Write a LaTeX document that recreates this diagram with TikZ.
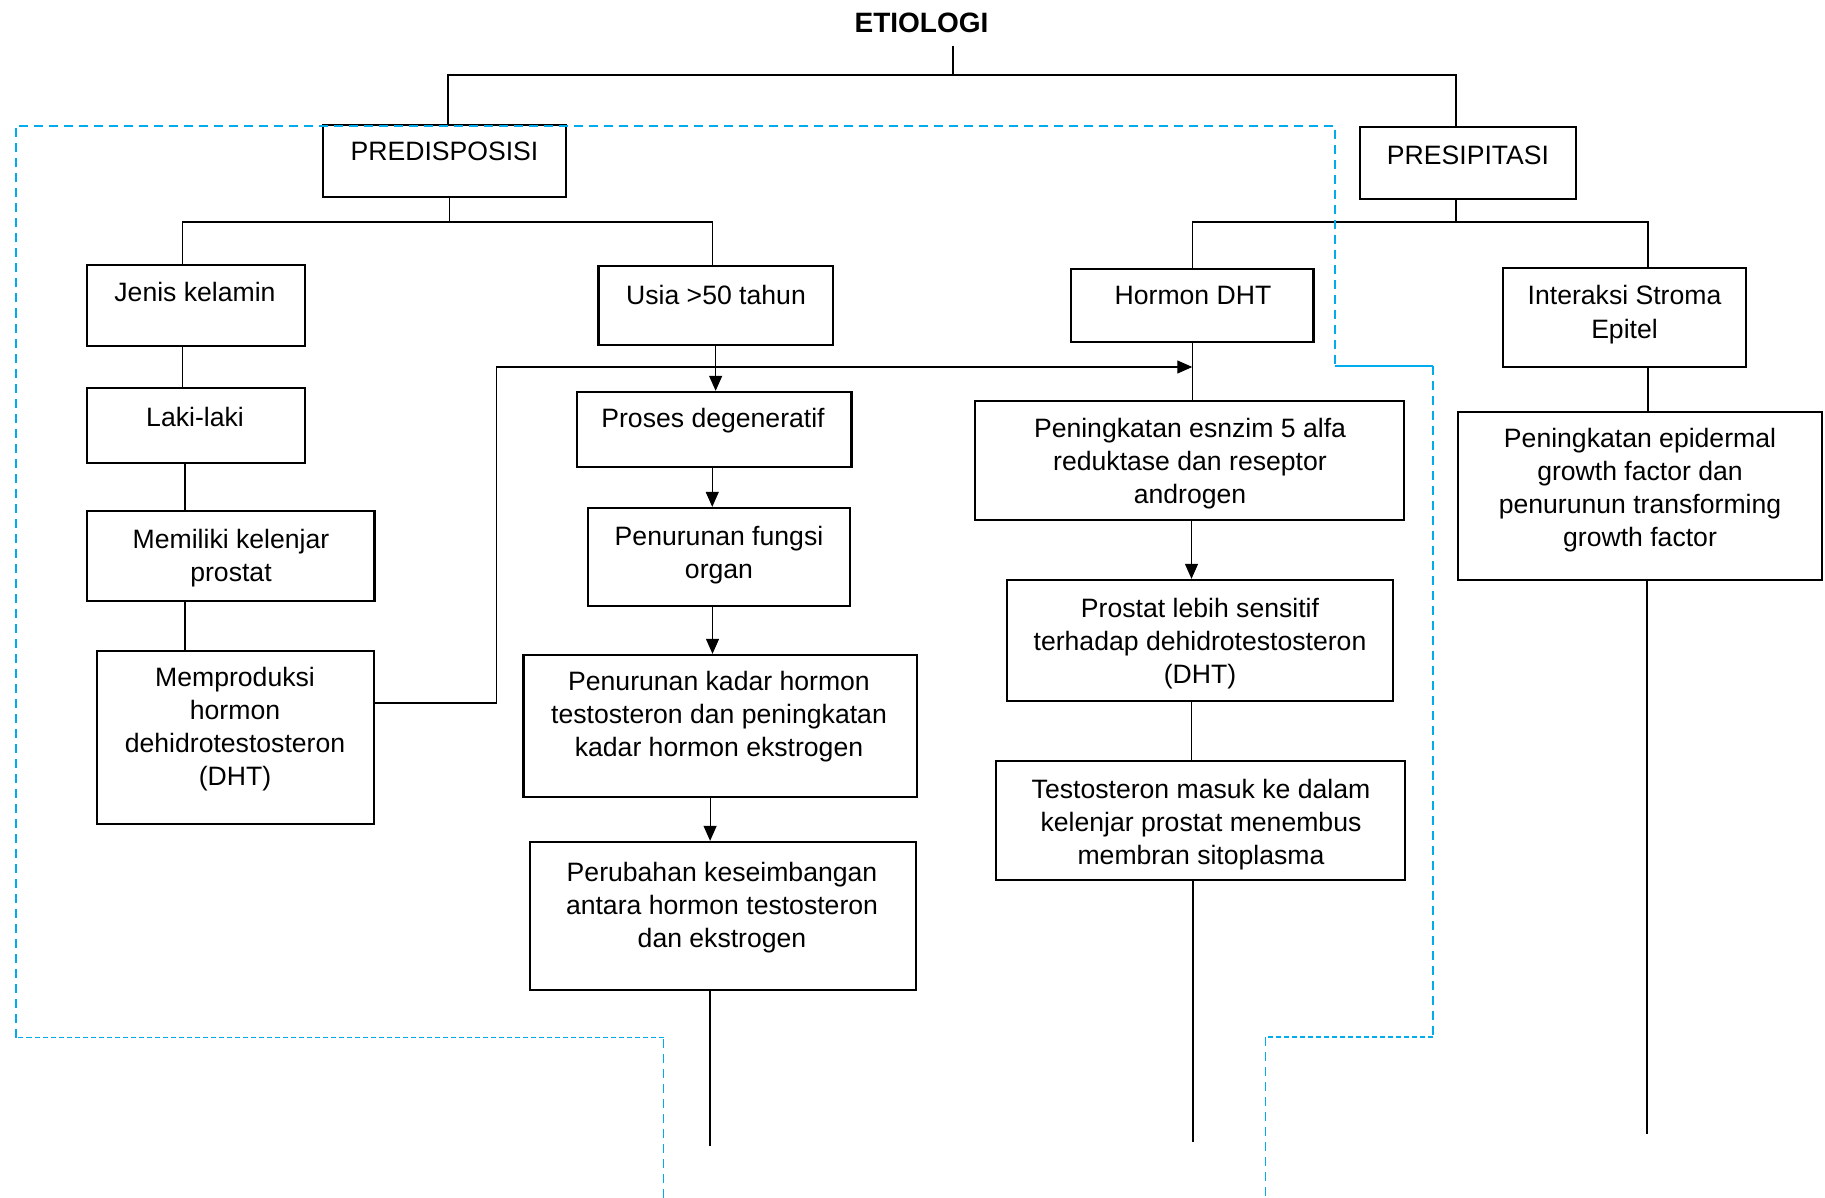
\documentclass[tikz,border=0pt]{standalone}
\usepackage{fontspec}
\setmainfont{Liberation Sans}
\usetikzlibrary{fit,arrows.meta}
\definecolor{guide}{RGB}{0,172,236}
\begin{document}
\begin{tikzpicture}[x=0.5pt,y=-0.5pt,
  box/.style={draw, line width=1.15pt, fill=white, inner sep=0pt},
  txt/.style={align=center, inner sep=0pt, anchor=base, font=\fontsize{13.3}{16.65}\selectfont},
  conn/.style={line width=0.55pt},
  arr/.style={conn, -{Triangle[length=7.5pt,width=6.5pt]}},
  region/.style={guide, line width=0.9pt, dash pattern=on 4.5pt off 3pt},
  regionfine/.style={guide, line width=0.9pt, dash pattern=on 2.5pt off 1.5pt}]
\useasboundingbox (0,0) rectangle (1825,1198);

% title
\node[txt, font=\fontsize{14}{17}\selectfont\bfseries] (etio) at (921.5,33) {ETIOLOGI};

% boxes
\node[box, fit={(323,125) (566,197)}] (pred) {};
\node[box, fit={(1360,127) (1576,199)}] (pres) {};
\node[box, fit={(87,265) (305,346)}] (jk) {};
\node[box, fit={(598.6,266) (832.7,345)}] (usia) {};
\node[box, fit={(1071,269) (1313.6,342)}] (horm) {};
\node[box, fit={(1503,268) (1746,367)}] (inter) {};
\node[box, fit={(87,388) (305,463)}] (laki) {};
\node[box, fit={(87,511) (374.4,601)}] (memi) {};
\node[box, fit={(97,651) (374,824)}] (mempro) {};
\node[box, fit={(577,392) (851.5,467)}] (proses) {};
\node[box, fit={(588,508) (850,606)}] (penf) {};
\node[box, fit={(523.5,655) (916.7,797)}] (penk) {};
\node[box, fit={(530,842) (916,990)}] (perub) {};
\node[box, fit={(975,401) (1404,520)}] (esn) {};
\node[box, fit={(1007,580) (1393,701)}] (prost) {};
\node[box, fit={(996,761) (1405,880)}] (testo) {};
\node[box, fit={(1458,411.7) (1822,580)}] (epi) {};

% box texts (anchored at the baseline of their last line)
\node[txt] (pred-t) at (444.5,161) {PREDISPOSISI};
\node[txt] (pres-t) at (1468,165) {PRESIPITASI};
\node[txt] (jk-t) at (195,301) {Jenis kelamin};
\node[txt] (usia-t) at (716,304) {Usia >50 tahun};
\node[txt] (horm-t) at (1193,305) {Hormon DHT};
\node[txt] (inter-t) at (1624.5,338.3) {Interaksi Stroma\\Epitel};
\node[txt] (laki-t) at (195,426) {Laki-laki};
\node[txt] (memi-t) at (231,581.3) {Memiliki kelenjar\\prostat};
\node[txt] (mempro-t) at (235,785.9) {Memproduksi\\hormon\\dehidrotestosteron\\(DHT)};
\node[txt] (proses-t) at (713,427) {Proses degeneratif};
\node[txt] (penf-t) at (719,578.3) {Penurunan fungsi\\organ};
\node[txt] (penk-t) at (719,756.6) {Penurunan kadar hormon\\testosteron dan peningkatan\\kadar hormon ekstrogen};
\node[txt] (perub-t) at (722,947.6) {Perubahan keseimbangan\\antara hormon testosteron\\dan ekstrogen};
\node[txt] (esn-t) at (1190,503.6) {Peningkatan esnzim 5 alfa\\reduktase dan reseptor\\androgen};
\node[txt] (prost-t) at (1200,683.6) {Prostat lebih sensitif\\terhadap dehidrotestosteron\\(DHT)};
\node[txt] (testo-t) at (1201,864.6) {Testosteron masuk ke dalam\\kelenjar prostat menembus\\membran sitoplasma};
\node[txt] (epi-t) at (1640,546.9) {Peningkatan epidermal\\growth factor dan\\penurunun transforming\\growth factor};

% junction and free-end points
\coordinate (eTop) at (953,46);
\coordinate (eBar) at (953,75);
\coordinate (pBus) at (449.5,222);
\coordinate (sBus) at (1456,222);
\coordinate (bend) at (496.5,367);
\coordinate (endA) at (710,1146);
\coordinate (endB) at (1193,1142);
\coordinate (endC) at (1647,1134);

% top level
\draw[conn] (eTop) -- (eBar);
\draw[conn] ([xshift=1.75pt]pred.north) |- ([xshift=-6pt]pres.north |- eBar) -- ([xshift=-6pt]pres.north);

% predisposisi branch
\draw[conn] ([xshift=2.5pt]pred.south) -- (pBus);
\draw[conn] ([xshift=-6.75pt]jk.north) |- ([xshift=-1.8pt]usia.north |- pBus) -- ([xshift=-1.8pt]usia.north);
\draw[conn] ([xshift=-6.75pt]jk.south) -- ([xshift=-6.75pt]laki.north);
\draw[conn] ([xshift=-5.5pt]laki.south) -- ([xshift=-5.5pt]laki.south |- memi.north);
\draw[conn] ([xshift=-22.85pt]memi.south) -- ([xshift=-22.85pt]memi.south |- mempro.north);
\draw[arr] (usia.south) -- (usia.south |- proses.north);
\draw[arr] ([xshift=-1pt]proses.south) -- ([xshift=-1pt]proses.south |- penf.north);
\draw[arr] ([xshift=-3.25pt]penf.south) -- ([xshift=-3.25pt]penf.south |- penk.north);
\draw[arr] ([xshift=-5pt]penk.south) -- ([xshift=-5pt]penk.south |- perub.north);
\draw[conn] ([xshift=-6.5pt]perub.south) -- (endA);

% presipitasi branch
\draw[conn] ([xshift=-6pt]pres.south) -- (sBus);
\draw[conn] (horm.north) |- ([xshift=11.75pt]inter.north |- sBus) -- ([xshift=11.75pt]inter.north);
\draw[conn] (horm.south) -- (horm.south |- esn.north);
\draw[arr] ([yshift=17.25pt]mempro.east) -| (bend) -- (horm.south |- bend);
\draw[arr] ([xshift=1pt]esn.south) -- ([xshift=1pt]esn.south |- prost.north);
\draw[conn] ([xshift=-4.25pt]prost.south) -- ([xshift=-4.25pt]prost.south |- testo.north);
\draw[conn] ([xshift=-3.75pt]testo.south) -- (endB);
\draw[conn] ([xshift=11.75pt]inter.south) -- ([xshift=11.75pt]inter.south |- epi.north);
\draw[conn] ([xshift=3.5pt]epi.south) -- (endC);

% dashed outline of the predisposing region
\draw[region] (663.5,1198) -- (663.5,1037.5);
\draw[regionfine] (663.5,1037.5) -- (16,1037.5);
\draw[region] (16,1037.5) -- (16,125.7) -- (1335,125.7) -- (1335,366);
\draw[guide, line width=0.9pt] (1335,366) -- (1433,366);
\draw[region] (1433,366) -- (1433,1037);
\draw[regionfine] (1433,1037) -- (1265.5,1037);
\draw[region] (1265.5,1037) -- (1265.5,1198);
\end{tikzpicture}
\end{document}
